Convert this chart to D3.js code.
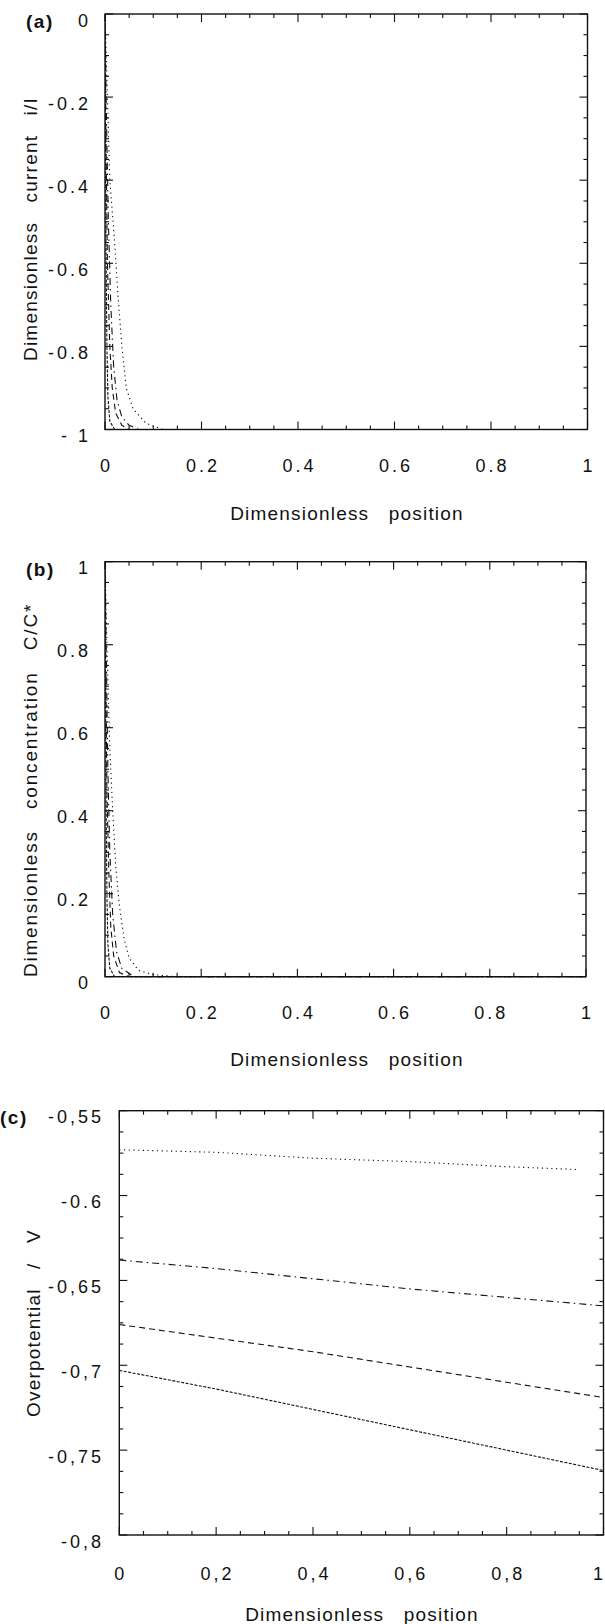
<!DOCTYPE html>
<html>
<head>
<meta charset="utf-8">
<script src="https://cdn.jsdelivr.net/npm/d3@7"></script>
<style>
  html, body { margin: 0; padding: 0; background: #fff; }
  svg { display: block; }
  text { font-family: "Liberation Sans", Arial, sans-serif; fill: #111; }
</style>
</head>
<body>
<svg id="chart" width="605" height="1624"></svg>
<script>
// ---------------- DATA ----------------
// Panel (a): dimensionless current i/I vs dimensionless position
const currentSolid   = [[0,0],[0.001,-0.3],[0.002,-0.55],[0.004,-0.8],[0.006,-0.92],[0.01,-0.98],[0.02,-1],[1,-1]];
const currentDashed  = [[0,0],[0.002,-0.3],[0.005,-0.6],[0.01,-0.8],[0.015,-0.9],[0.022,-0.96],[0.035,-0.99],[0.05,-1],[1,-1]];
const currentDashDot = [[0,0],[0.003,-0.25],[0.007,-0.5],[0.012,-0.7],[0.018,-0.85],[0.025,-0.93],[0.035,-0.97],[0.05,-0.99],[0.07,-1],[1,-1]];
const currentDotted  = [[0,0],[0.005,-0.2],[0.01,-0.4],[0.02,-0.55],[0.027,-0.68],[0.035,-0.8],[0.044,-0.9],[0.058,-0.95],[0.085,-0.985],[0.12,-1],[1,-1]];

// Panel (b): dimensionless concentration C/C* vs dimensionless position
const concSolid   = [[0,1],[0.001,0.7],[0.002,0.45],[0.004,0.2],[0.006,0.08],[0.01,0.02],[0.02,0],[1,0]];
const concDashed  = [[0,1],[0.002,0.7],[0.004,0.45],[0.008,0.25],[0.012,0.12],[0.018,0.05],[0.03,0.01],[0.05,0],[1,0]];
const concDashDot = [[0,1],[0.003,0.75],[0.006,0.5],[0.01,0.3],[0.016,0.15],[0.024,0.06],[0.035,0.02],[0.06,0],[1,0]];
const concDotted  = [[0,1],[0.004,0.8],[0.01,0.55],[0.016,0.4],[0.022,0.27],[0.03,0.17],[0.04,0.09],[0.05,0.045],[0.07,0.015],[0.1,0.005],[0.15,0],[1,0]];

// Panel (c): overpotential / V vs dimensionless position
const potX        = [0, 0.2, 0.4, 0.6, 0.8, 0.95];
const potDotted   = [-0.573, -0.5745, -0.578, -0.580, -0.583, -0.5847];
const potXFull    = [0, 0.2, 0.4, 0.6, 0.8, 1.0];
const potDashDot  = [-0.638, -0.643, -0.649, -0.655, -0.660, -0.665];
const potDashed   = [-0.676, -0.684, -0.692, -0.701, -0.710, -0.719];
const potSolid    = [-0.703, -0.714, -0.726, -0.738, -0.750, -0.762];

// Tick labels
const xTicksAB   = [0, 0.2, 0.4, 0.6, 0.8, 1];
const xLabelsA   = ["0", "0.2", "0.4", "0.6", "0.8", "1"];
const xLabelsB   = ["0", "0.2", "0.4", "0.6", "0.8", "1"];
const xLabelsC   = ["0", "0,2", "0,4", "0,6", "0,8", "1"];
const yTicksA    = [0, -0.2, -0.4, -0.6, -0.8, -1];
const yLabelsA   = ["0", "-0.2", "-0.4", "-0.6", "-0.8", "- 1"];
const yTicksB    = [1, 0.8, 0.6, 0.4, 0.2, 0];
const yLabelsB   = ["1", "0.8", "0.6", "0.4", "0.2", "0"];
const yTicksC    = [-0.55, -0.6, -0.65, -0.7, -0.75, -0.8];
const yLabelsC   = ["-0,55", "-0.6", "-0,65", "-0,7", "-0,75", "-0,8"];

// ---------------- DRAWING ----------------
const svg = d3.select("#chart");
const W = 605;

const styles = {
  solid:   { dash: "3,1.5", width: 1.1 },
  dashed:  { dash: "6,4",   width: 1.1 },
  dashdot: { dash: "7,4,1.5,4", width: 1.1 },
  dotted:  { dash: "1.2,3.5", width: 1.1 }
};

const NB = "\u00a0";
function spaced(words, n) { return words.join(NB.repeat(n)); }

function panel(cfg) {
  const g = svg.append("g");
  const x = d3.scaleLinear().domain(cfg.xDomain).range([cfg.left, cfg.right]);
  const y = d3.scaleLinear().domain(cfg.yDomain).range([cfg.bottom, cfg.top]);

  // frame
  g.append("rect")
    .attr("x", cfg.left).attr("y", cfg.top)
    .attr("width", cfg.right - cfg.left).attr("height", cfg.bottom - cfg.top)
    .attr("fill", "none").attr("stroke", "#111").attr("stroke-width", 1.4);

  // ticks on all 4 sides (inward)
  const tk = g.append("g").attr("stroke", "#111").attr("stroke-width", 1.1);
  const nx = Math.round((cfg.xDomain[1] - cfg.xDomain[0]) / cfg.xMinorStep);
  d3.range(nx + 1).map(i => cfg.xDomain[0] + i * cfg.xMinorStep).forEach(v => {
    const major = cfg.xTicks.some(t => Math.abs(t - v) < 1e-9);
    const L = major ? 8 : 4;
    tk.append("line").attr("x1", x(v)).attr("x2", x(v)).attr("y1", cfg.bottom).attr("y2", cfg.bottom - L);
    tk.append("line").attr("x1", x(v)).attr("x2", x(v)).attr("y1", cfg.top).attr("y2", cfg.top + L);
  });
  const yLo = Math.min(...cfg.yDomain), yHi = Math.max(...cfg.yDomain);
  const ny = Math.round((yHi - yLo) / cfg.yMinorStep);
  d3.range(ny + 1).map(i => yLo + i * cfg.yMinorStep).forEach(v => {
    const major = cfg.yTicks.some(t => Math.abs(t - v) < 1e-9);
    const L = major ? 8 : 4;
    tk.append("line").attr("y1", y(v)).attr("y2", y(v)).attr("x1", cfg.left).attr("x2", cfg.left + L);
    tk.append("line").attr("y1", y(v)).attr("y2", y(v)).attr("x1", cfg.right).attr("x2", cfg.right - L);
  });

  // tick labels
  cfg.xTicks.forEach((v, i) => {
    const px = x(v);
    const t = g.append("text").attr("y", cfg.bottom + cfg.xLabelDy)
      .attr("font-size", 18).attr("letter-spacing", 3)
      .text(cfg.xLabels[i]);
    if (px + 8 > W) t.attr("x", W + 1).attr("text-anchor", "end");
    else t.attr("x", px + 1.5).attr("text-anchor", "middle");
  });
  cfg.yTicks.forEach((v, i) => {
    g.append("text").attr("x", cfg.yLabelX).attr("y", y(v) + 12.5)
      .attr("text-anchor", "end").attr("font-size", 18).attr("letter-spacing", 3)
      .text(cfg.yLabels[i]);
  });

  // panel letter
  g.append("text").attr("x", cfg.letterX).attr("y", cfg.letterY)
    .attr("font-family", "Liberation Serif, Times New Roman, serif")
    .attr("font-weight", "bold").attr("font-size", 19).attr("letter-spacing", 1.5)
    .text(cfg.letter);

  // axis titles
  g.append("text").attr("x", cfg.xTitleX).attr("y", cfg.xTitleY)
    .attr("text-anchor", "middle").attr("font-size", 19).attr("letter-spacing", 1.2)
    .text(spaced(["Dimensionless", "position"], 3));
  g.append("text")
    .attr("transform", `translate(${cfg.yTitleX},${cfg.yTitleY}) rotate(-90)`)
    .attr("text-anchor", "middle").attr("font-size", 19).attr("letter-spacing", cfg.yTitleLs)
    .text(cfg.yTitle);

  // series
  const line = d3.line().x(d => x(d[0])).y(d => y(d[1]));
  const clipId = "clip" + cfg.letter.replace(/\W/g, "");
  svg.append("clipPath").attr("id", clipId).append("rect")
    .attr("x", cfg.left).attr("y", cfg.top - 1)
    .attr("width", cfg.right - cfg.left).attr("height", cfg.bottom - cfg.top + 2);
  cfg.series.forEach(s => {
    g.append("path").datum(s.data)
      .attr("clip-path", `url(#${clipId})`)
      .attr("fill", "none").attr("stroke", "#111")
      .attr("stroke-width", styles[s.style].width)
      .attr("stroke-dasharray", styles[s.style].dash)
      .attr("d", line);
  });
}

panel({
  letter: "(a)", letterX: 26, letterY: 28,
  left: 105, right: 587.5, top: 14, bottom: 429.5,
  xDomain: [0, 1], yDomain: [-1, 0],
  xTicks: xTicksAB, xLabels: xLabelsA, xMinorStep: 0.05,
  yTicks: yTicksA, yLabels: yLabelsA, yMinorStep: 0.05,
  xLabelDy: 42, yLabelX: 91,
  xTitleX: 347, xTitleY: 520,
  yTitle: spaced(["Dimensionless", "current", "i/I"], 3), yTitleLs: 1.2, yTitleX: 37, yTitleY: 229,
  series: [
    { data: currentSolid, style: "solid" },
    { data: currentDashed, style: "dashed" },
    { data: currentDashDot, style: "dashdot" },
    { data: currentDotted, style: "dotted" }
  ]
});

panel({
  letter: "(b)", letterX: 26, letterY: 576,
  left: 105, right: 586, top: 561.7, bottom: 976.7,
  xDomain: [0, 1], yDomain: [0, 1],
  xTicks: xTicksAB, xLabels: xLabelsB, xMinorStep: 0.05,
  yTicks: yTicksB, yLabels: yLabelsB, yMinorStep: 0.05,
  xLabelDy: 42, yLabelX: 91,
  xTitleX: 347, xTitleY: 1066,
  yTitle: spaced(["Dimensionless", "concentration", "C/C*"], 3), yTitleLs: 1.8, yTitleX: 37, yTitleY: 790,
  series: [
    { data: concSolid, style: "solid" },
    { data: concDashed, style: "dashed" },
    { data: concDashDot, style: "dashdot" },
    { data: concDotted, style: "dotted" }
  ]
});

panel({
  letter: "(c)", letterX: 0, letterY: 1124,
  left: 119.3, right: 603.5, top: 1110.7, bottom: 1535,
  xDomain: [0, 1], yDomain: [-0.8, -0.55],
  xTicks: xTicksAB, xLabels: xLabelsC, xMinorStep: 0.05,
  yTicks: yTicksC, yLabels: yLabelsC, yMinorStep: 0.0125,
  xLabelDy: 45, yLabelX: 104,
  xTitleX: 362, xTitleY: 1621,
  yTitle: spaced(["Overpotential", "/", "V"], 3), yTitleLs: 1.2, yTitleX: 40, yTitleY: 1323,
  series: [
    { data: potX.map((v, i) => [v, potDotted[i]]), style: "dotted" },
    { data: potXFull.map((v, i) => [v, potDashDot[i]]), style: "dashdot" },
    { data: potXFull.map((v, i) => [v, potDashed[i]]), style: "dashed" },
    { data: potXFull.map((v, i) => [v, potSolid[i]]), style: "solid" }
  ]
});
</script>
</body>
</html>
